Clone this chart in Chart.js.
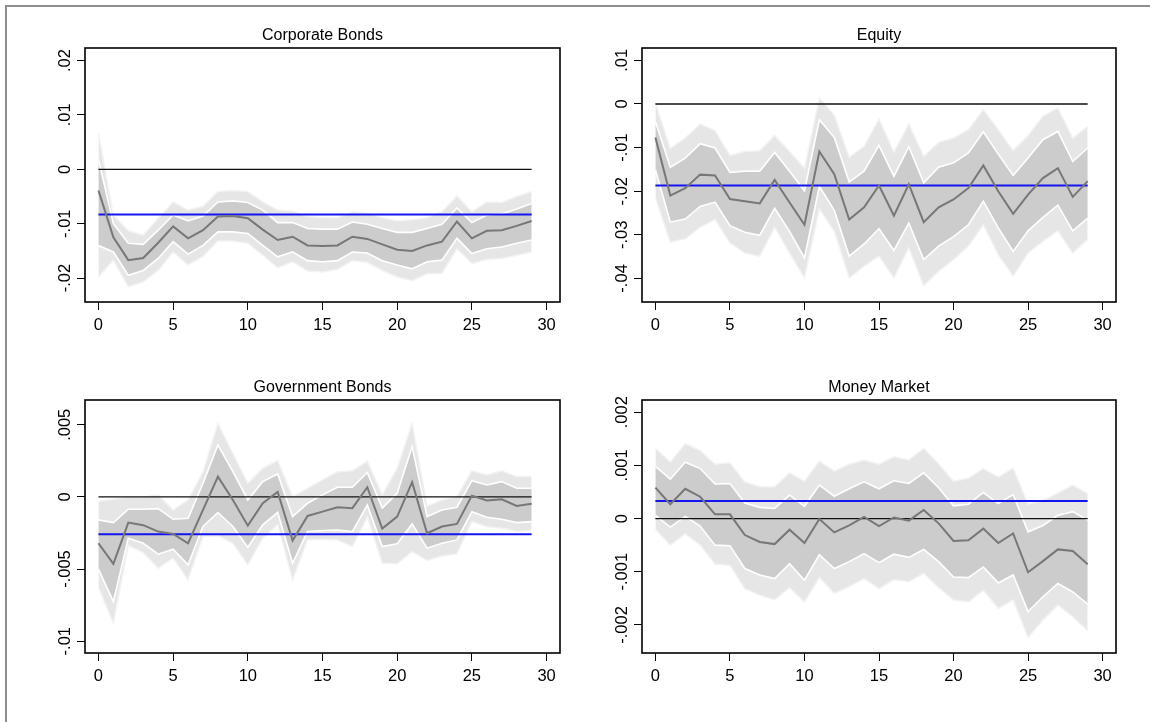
<!DOCTYPE html>
<html lang="en">
<head>
    <meta charset="UTF-8">
    <title>Impulse responses by asset class</title>
    <script src="https://cdn.jsdelivr.net/npm/chart.js"></script>
    <style>
        html, body { margin: 0; padding: 0; background: #fff; }
        #page { position: relative; width: 1150px; height: 722px; overflow: hidden; background: #fff; }
        #frame { position: absolute; left: 5px; top: 5px; width: 1200px; height: 800px;
                 border-left: 2px solid #8e8e8e; border-top: 2px solid #8e8e8e; }
        canvas { position: absolute; }
    </style>
    <script>
        // horizon (periods after the shock)
        const horizon = [0,1,2,3,4,5,6,7,8,9,10,11,12,13,14,15,16,17,18,19,20,21,22,23,24,25,26,27,28,29];
        const xTicks = [0, 5, 10, 15, 20, 25, 30];

        // Corporate Bonds
        const cbMean = [-0.0039,-0.0125,-0.0167,-0.0163,-0.0135,-0.0105,-0.0127,-0.0112,-0.0087,-0.0086,-0.0090,-0.0111,-0.0130,-0.0124,-0.0140,-0.0141,-0.0140,-0.0124,-0.0128,-0.0138,-0.0148,-0.0150,-0.0140,-0.0133,-0.0096,-0.0127,-0.0113,-0.0112,-0.0104,-0.0095];
        const cbHi68 = [0.0018,-0.0100,-0.0136,-0.0138,-0.0112,-0.0084,-0.0095,-0.0086,-0.0060,-0.0058,-0.0061,-0.0075,-0.0098,-0.0098,-0.0109,-0.0110,-0.0110,-0.0097,-0.0101,-0.0109,-0.0116,-0.0116,-0.0109,-0.0101,-0.0071,-0.0098,-0.0084,-0.0082,-0.0073,-0.0063];
        const cbLo68 = [-0.0140,-0.0152,-0.0195,-0.0186,-0.0164,-0.0133,-0.0156,-0.0140,-0.0115,-0.0115,-0.0118,-0.0140,-0.0161,-0.0152,-0.0168,-0.0170,-0.0168,-0.0152,-0.0154,-0.0168,-0.0176,-0.0183,-0.0170,-0.0167,-0.0127,-0.0155,-0.0146,-0.0143,-0.0136,-0.0130];
        const cbHi90 = [0.0066,-0.0084,-0.0113,-0.0121,-0.0090,-0.0060,-0.0075,-0.0068,-0.0041,-0.0039,-0.0041,-0.0060,-0.0075,-0.0077,-0.0087,-0.0089,-0.0089,-0.0078,-0.0081,-0.0089,-0.0095,-0.0093,-0.0089,-0.0078,-0.0049,-0.0078,-0.0060,-0.0061,-0.0050,-0.0041];
        const cbLo90 = [-0.0198,-0.0167,-0.0216,-0.0207,-0.0186,-0.0152,-0.0176,-0.0160,-0.0132,-0.0132,-0.0136,-0.0158,-0.0181,-0.0170,-0.0187,-0.0189,-0.0184,-0.0168,-0.0171,-0.0186,-0.0198,-0.0205,-0.0192,-0.0191,-0.0146,-0.0173,-0.0166,-0.0164,-0.0158,-0.0152];
        const cbAvg = -0.0083;
        const cbTicks = [-0.02, -0.01, 0, 0.01, 0.02];
        const cbTickLabels = ['-.02', '-.01', '0', '.01', '.02'];

        // Equity
        const eqMean = [-0.0077,-0.0210,-0.0193,-0.0162,-0.0164,-0.0218,-0.0223,-0.0228,-0.0174,-0.0226,-0.0277,-0.0109,-0.0161,-0.0265,-0.0237,-0.0187,-0.0256,-0.0184,-0.0271,-0.0237,-0.0219,-0.0193,-0.0141,-0.0200,-0.0252,-0.0208,-0.0170,-0.0147,-0.0213,-0.0177];
        const eqHi68 = [-0.0041,-0.0145,-0.0124,-0.0091,-0.0101,-0.0157,-0.0154,-0.0154,-0.0111,-0.0154,-0.0199,-0.0036,-0.0077,-0.0179,-0.0154,-0.0095,-0.0166,-0.0098,-0.0181,-0.0145,-0.0135,-0.0112,-0.0064,-0.0115,-0.0164,-0.0124,-0.0082,-0.0063,-0.0132,-0.0101];
        const eqLo68 = [-0.0151,-0.0271,-0.0264,-0.0235,-0.0225,-0.0279,-0.0294,-0.0301,-0.0239,-0.0292,-0.0353,-0.0189,-0.0244,-0.0349,-0.0321,-0.0286,-0.0336,-0.0273,-0.0357,-0.0326,-0.0304,-0.0277,-0.0223,-0.0284,-0.0338,-0.0291,-0.0260,-0.0232,-0.0291,-0.0262];
        const eqHi90 = [0.0002,-0.0102,-0.0078,-0.0046,-0.0061,-0.0118,-0.0109,-0.0107,-0.0072,-0.0109,-0.0147,0.0014,-0.0025,-0.0122,-0.0097,-0.0034,-0.0110,-0.0046,-0.0120,-0.0088,-0.0078,-0.0059,-0.0013,-0.0059,-0.0107,-0.0072,-0.0028,-0.0009,-0.0078,-0.0051];
        const eqLo90 = [-0.0216,-0.0317,-0.0309,-0.0283,-0.0265,-0.0319,-0.0342,-0.0349,-0.0283,-0.0342,-0.0399,-0.0241,-0.0292,-0.0399,-0.0372,-0.0349,-0.0399,-0.0330,-0.0417,-0.0384,-0.0357,-0.0326,-0.0277,-0.0346,-0.0395,-0.0342,-0.0315,-0.0291,-0.0342,-0.0311];
        const eqAvg = -0.0187;
        const eqTicks = [-0.04, -0.03, -0.02, -0.01, 0, 0.01];
        const eqTickLabels = ['-.04', '-.03', '-.02', '-.01', '0', '.01'];

        // Government Bonds
        const gbMean = [-0.00321,-0.00464,-0.00178,-0.00196,-0.00240,-0.00256,-0.00321,-0.00090,0.00141,-0.00021,-0.00199,-0.00044,0.00035,-0.00302,-0.00132,-0.00102,-0.00072,-0.00078,0.00067,-0.00219,-0.00136,0.00102,-0.00252,-0.00205,-0.00187,0.00009,-0.00025,-0.00016,-0.00062,-0.00048];
        const gbHi68 = [-0.00159,-0.00178,-0.00085,-0.00085,-0.00081,-0.00155,-0.00148,0.00095,0.00360,0.00175,-0.00021,0.00106,0.00159,-0.00136,-0.00044,0.00014,0.00067,0.00067,0.00169,-0.00078,0.00025,0.00349,-0.00136,-0.00090,-0.00072,0.00113,0.00083,0.00106,0.00060,0.00060];
        const gbLo68 = [-0.00501,-0.00725,-0.00286,-0.00321,-0.00397,-0.00362,-0.00471,-0.00205,-0.00108,-0.00205,-0.00349,-0.00194,-0.00108,-0.00459,-0.00240,-0.00233,-0.00229,-0.00240,-0.00055,-0.00344,-0.00325,-0.00187,-0.00355,-0.00321,-0.00298,-0.00102,-0.00141,-0.00155,-0.00178,-0.00171];
        const gbHi90 = [-0.00030,-0.00016,0.00002,-0.00002,0.00014,-0.00090,-0.00021,0.00175,0.00510,0.00302,0.00095,0.00199,0.00252,0.00002,0.00060,0.00118,0.00175,0.00182,0.00249,0.00014,0.00199,0.00510,-0.00062,-0.00021,0.00002,0.00182,0.00152,0.00182,0.00141,0.00141];
        const gbLo90 = [-0.00630,-0.00875,-0.00337,-0.00386,-0.00494,-0.00425,-0.00575,-0.00275,-0.00270,-0.00321,-0.00471,-0.00286,-0.00194,-0.00575,-0.00298,-0.00293,-0.00298,-0.00344,-0.00141,-0.00459,-0.00464,-0.00379,-0.00441,-0.00409,-0.00395,-0.00171,-0.00206,-0.00217,-0.00240,-0.00233];
        const gbAvg = -0.00259;
        const gbTicks = [-0.01, -0.005, 0, 0.005];
        const gbTickLabels = ['-.01', '-.005', '0', '.005'];

        // Money Market
        const mmMean = [0.00058,0.00027,0.00056,0.00041,0.00008,0.00008,-0.00031,-0.00044,-0.00048,-0.00021,-0.00046,-0.00001,-0.00026,-0.00013,0.00003,-0.00014,0.00002,-0.00004,0.00016,-0.00009,-0.00042,-0.00041,-0.00019,-0.00046,-0.00028,-0.00101,-0.00080,-0.00058,-0.00061,-0.00086];
        const mmHi68 = [0.00098,0.00074,0.00106,0.00094,0.00065,0.00066,0.00029,0.00021,0.00019,0.00044,0.00023,0.00063,0.00042,0.00056,0.00069,0.00056,0.00071,0.00066,0.00086,0.00058,0.00024,0.00027,0.00049,0.00028,0.00045,-0.00025,-0.00013,0.00006,0.00013,-0.00003];
        const mmLo68 = [0.00006,-0.00016,0.00004,-0.00014,-0.00050,-0.00051,-0.00094,-0.00106,-0.00113,-0.00085,-0.00116,-0.00068,-0.00094,-0.00081,-0.00066,-0.00083,-0.00067,-0.00073,-0.00058,-0.00081,-0.00110,-0.00111,-0.00091,-0.00121,-0.00106,-0.00175,-0.00147,-0.00122,-0.00138,-0.00161];
        const mmHi90 = [0.00132,0.00106,0.00141,0.00128,0.00102,0.00105,0.00069,0.00060,0.00060,0.00086,0.00070,0.00108,0.00089,0.00102,0.00110,0.00102,0.00116,0.00110,0.00132,0.00103,0.00070,0.00076,0.00094,0.00078,0.00095,0.00027,0.00034,0.00048,0.00063,0.00047];
        const mmLo90 = [-0.00020,-0.00050,-0.00029,-0.00050,-0.00086,-0.00088,-0.00132,-0.00144,-0.00153,-0.00130,-0.00157,-0.00111,-0.00141,-0.00128,-0.00113,-0.00132,-0.00115,-0.00119,-0.00103,-0.00130,-0.00153,-0.00157,-0.00135,-0.00169,-0.00153,-0.00224,-0.00191,-0.00163,-0.00185,-0.00211];
        const mmAvg = 0.00033;
        const mmTicks = [-0.002, -0.001, 0, 0.001, 0.002];
        const mmTickLabels = ['-.002', '-.001', '0', '.001', '.002'];

        const FONT = '"Liberation Sans", Arial, Helvetica, sans-serif';

        function points(arr) {
            return horizon.map((h, i) => ({x: h, y: arr[i]}));
        }

        function flat(v) {
            return [{x: horizon[0], y: v}, {x: horizon[horizon.length - 1], y: v}];
        }

        // box around the plot region, title, and the tick labels (y labels turned like Stata)
        const stataPlugin = {
            id: 'stataLook',
            afterDraw(chart) {
                const ctx = chart.ctx;
                const a = chart.chartArea;
                const p = chart.options.plugins.stataLook;
                const xs = chart.scales.x;
                const ys = chart.scales.y;
                ctx.save();
                ctx.strokeStyle = '#000';
                ctx.lineWidth = 1.6;
                ctx.strokeRect(a.left, a.top, a.right - a.left, a.bottom - a.top);

                ctx.fillStyle = '#000';
                ctx.font = '16px ' + FONT;
                ctx.textAlign = 'center';
                ctx.textBaseline = 'alphabetic';
                ctx.fillText(p.title, (a.left + a.right) / 2, a.top - 8);

                ctx.font = '16.5px ' + FONT;
                xTicks.forEach(v => {
                    ctx.fillText(String(v), xs.getPixelForValue(v), a.bottom + 28);
                });
                p.ticks.forEach((v, i) => {
                    ctx.save();
                    ctx.translate(a.left - 15, ys.getPixelForValue(v));
                    ctx.rotate(-Math.PI / 2);
                    ctx.fillText(p.tickLabels[i], 0, 0);
                    ctx.restore();
                });
                ctx.restore();
            }
        };

        function makePanel(id, box, title, yMin, yMax, ticks, tickLabels, s) {
            const canvas = document.getElementById(id);
            canvas.style.left = box.x + 'px';
            canvas.style.top = box.y + 'px';
            canvas.width = 575;
            canvas.height = 361;

            const outerEdge = '#f3f3f3';
            const innerEdge = '#ffffff';

            new Chart(canvas.getContext('2d'), {
                type: 'line',
                data: {
                    datasets: [
                        {data: points(s.lo90), fill: '+1', backgroundColor: '#e6e6e6', borderColor: outerEdge, borderWidth: 1.5, order: 7},
                        {data: points(s.hi90), fill: false, borderColor: outerEdge, borderWidth: 1.5, order: 6},
                        {data: points(s.lo68), fill: '+1', backgroundColor: '#cccccc', borderColor: innerEdge, borderWidth: 1.6, order: 5},
                        {data: points(s.hi68), fill: false, borderColor: innerEdge, borderWidth: 1.6, order: 4},
                        {data: flat(0), fill: false, borderColor: '#111', borderWidth: 1.3, order: 3},
                        {data: flat(s.avg), fill: false, borderColor: '#1414f0', borderWidth: 2, order: 2},
                        {data: points(s.mean), fill: false, borderColor: '#777777', borderWidth: 2, order: 1}
                    ]
                },
                options: {
                    responsive: false,
                    animation: false,
                    events: [],
                    elements: {point: {radius: 0}, line: {tension: 0}},
                    layout: {autoPadding: false, padding: {top: box.top, right: box.right, left: 0, bottom: 0}},
                    plugins: {
                        legend: {display: false},
                        tooltip: {enabled: false},
                        stataLook: {title: title, ticks: ticks, tickLabels: tickLabels}
                    },
                    scales: {
                        x: {
                            type: 'linear',
                            min: -0.9,
                            max: 30.9,
                            afterBuildTicks: sc => { sc.ticks = xTicks.map(v => ({value: v})); },
                            afterFit: sc => { sc.height = box.bottom; },
                            ticks: {display: false},
                            border: {display: false},
                            grid: {drawOnChartArea: false, drawTicks: true, tickLength: 8, color: '#000', lineWidth: 1}
                        },
                        y: {
                            min: yMin,
                            max: yMax,
                            afterBuildTicks: sc => { sc.ticks = ticks.map(v => ({value: v})); },
                            afterFit: sc => { sc.width = box.left; },
                            ticks: {display: false},
                            border: {display: false},
                            grid: {drawOnChartArea: false, drawTicks: true, tickLength: 8, color: '#000', lineWidth: 1}
                        }
                    }
                },
                plugins: [stataPlugin]
            });
        }

        window.onload = function () {
            makePanel('cb', {x: 0, y: 0, left: 85, right: 15, top: 48, bottom: 59}, 'Corporate Bonds',
                -0.0244, 0.0223, cbTicks, cbTickLabels,
                {mean: cbMean, hi68: cbHi68, lo68: cbLo68, hi90: cbHi90, lo90: cbLo90, avg: cbAvg});
            makePanel('eq', {x: 575, y: 0, left: 67, right: 34, top: 48, bottom: 59}, 'Equity',
                -0.04541, 0.01284, eqTicks, eqTickLabels,
                {mean: eqMean, hi68: eqHi68, lo68: eqLo68, hi90: eqHi90, lo90: eqLo90, avg: eqAvg});
            makePanel('gb', {x: 0, y: 361, left: 85, right: 15, top: 39, bottom: 69}, 'Government Bonds',
                -0.01082, 0.00672, gbTicks, gbTickLabels,
                {mean: gbMean, hi68: gbHi68, lo68: gbLo68, hi90: gbHi90, lo90: gbLo90, avg: gbAvg});
            makePanel('mm', {x: 575, y: 361, left: 67, right: 34, top: 39, bottom: 69}, 'Money Market',
                -0.002528, 0.002229, mmTicks, mmTickLabels,
                {mean: mmMean, hi68: mmHi68, lo68: mmLo68, hi90: mmHi90, lo90: mmLo90, avg: mmAvg});
        };
    </script>
</head>
<body>
    <div id="page">
        <div id="frame"></div>
        <canvas id="cb"></canvas>
        <canvas id="eq"></canvas>
        <canvas id="gb"></canvas>
        <canvas id="mm"></canvas>
    </div>
</body>
</html>
